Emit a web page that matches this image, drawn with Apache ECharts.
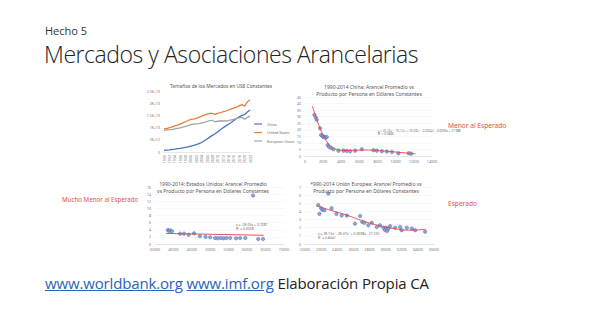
<!DOCTYPE html>
<html><head><meta charset="utf-8">
<script src="https://cdn.jsdelivr.net/npm/echarts@6/dist/echarts.min.js"></script>
<style>
html,body{margin:0;padding:0;background:#fff;width:589px;height:331px;overflow:hidden;font-family:'Open Sans','Noto Sans',sans-serif;}
#c{position:absolute;left:0;top:0;width:589px;height:331px;}
.t{position:absolute;white-space:nowrap;color:#222;}
a{color:#2b63b8;text-decoration:underline;}
</style></head>
<body>
<div id="c"></div>
<div class="t" style="left:45px;top:25px;font-size:11px;line-height:12px;color:#333;">Hecho 5</div>
<div class="t" style="left:44px;top:42px;font-size:23px;line-height:25px;font-weight:300;letter-spacing:-0.45px;">Mercados y Asociaciones Arancelarias</div>
<div class="t" style="left:45px;top:273px;font-size:15px;line-height:20px;letter-spacing:-0.15px;"><a>www.worldbank.org</a> <a>www.imf.org</a> Elaboración Propia CA</div>
<script>
// ---- Chart 1: market size (trillions of constant US$) ----
const years = [];
for (let y = 1990; y <= 2022; y++) years.push(String(y));
const china = [0.7,0.8,0.9,1.1,1.2,1.4,1.5,1.7,1.9,2.1,2.4,2.7,3.0,3.4,3.9,4.6,5.3,6.1,6.8,7.5,8.3,9.1,9.9,10.7,11.4,12.1,12.9,13.7,14.4,15.0,15.3,16.4,17.2];
const usa = [9.6,9.6,10.0,10.3,10.7,11.0,11.4,11.9,12.4,12.9,13.4,13.5,13.8,14.2,14.7,15.1,15.5,15.8,15.8,15.4,15.8,16.1,16.5,16.8,17.2,17.7,18.0,18.4,19.0,19.4,18.8,20.5,21.4];
const eu = [8.9,9.1,9.2,9.2,9.5,9.7,9.9,10.2,10.5,10.8,11.2,11.4,11.5,11.6,11.9,12.1,12.5,12.9,13.0,12.4,12.6,12.8,12.7,12.7,12.9,13.2,13.4,13.8,14.0,14.2,13.4,14.2,14.7];
const yLabels1 = ['0','5E+12','1E+13','1.5E+13','2E+13','2.5E+13'];

// ---- Chart 2: China tariff vs GDP per capita ----
const chinaPts = [[1030,31.5],[1180,29.5],[1290,27.7],[1660,21.2],[1770,16],[1920,15.3],[2030,14.5],[2140,14.7],[2280,14],[2400,14.5],[2500,8.3],[2650,7],[2870,6.2],[3130,5.2],[3680,4.1],[4240,4.1],[4600,3.9],[4970,3.6],[5530,4.1],[6260,5.2],[7550,4.4],[7920,4.1],[8470,3.6],[9030,3.4],[9580,3.1],[10300,2.1],[11420,2.1],[11700,1.8]];
const chinaTrend = [[800,38],[1200,30],[1600,22],[2000,16],[2500,10],[3000,6.5],[3500,5],[4500,4.3],[5500,4.3],[6500,4.6],[7500,4.5],[8500,4],[9500,3.4],[10500,2.7],[11500,2.1],[12200,1.6]];

// ---- Chart 3: United States ----
const usPts = [[38500,3.9],[38800,3.7],[39200,3.8],[39600,3.6],[41800,2.9],[42900,2.9],[44150,2.6],[45600,3.0],[47200,2.2],[48700,2.0],[49950,1.9],[51300,1.7],[52000,1.6],[52800,1.7],[53600,1.6],[54400,1.7],[55400,1.7],[57000,1.6],[58100,1.7],[59500,1.7],[61600,13.6],[63000,1.4],[64300,1.4]];
const usTrend = [[38000,2.97],[64500,2.44]];

// ---- Chart 4: European Union ----
const euPts = [[21650,4.8],[21780,3.7],[22000,4.4],[22150,4.2],[22400,4.15],[22900,6.2],[23300,4.4],[23900,3.7],[24550,3.5],[25200,3.5],[26200,2.5],[26830,3.45],[27100,2.7],[27370,2.6],[27860,2.3],[28280,2.6],[28900,2.1],[29300,2.3],[29730,2.0],[29940,1.7],[30060,2.0],[30190,1.6],[30350,1.9],[30560,2.2],[31180,2.0],[31800,2.1],[32000,1.7],[32630,2.0],[33250,1.9],[33670,1.7],[34900,1.5]];
const euTrend = [[21400,4.7],[23000,4.2],[25000,3.6],[27000,2.9],[29000,2.3],[31000,1.9],[33000,1.7],[35000,1.8]];

const FONT = 'Noto Sans';
const plain = (v) => String(v);
const tiny = {fontSize:3.6, color:'#777', fontFamily:FONT};
const axisLine = {show:true, lineStyle:{color:'#d9d9d9', width:0.6}};
const grid = {show:true, lineStyle:{color:'#f0f0f0', width:0.5}};
const scatterStyle = {color:'#7f9bd6', borderColor:'#4a6fb8', borderWidth:0.5, opacity:0.9};
const trendStyle = {color:'#e8403c', width:0.9};

const chart = echarts.init(document.getElementById('c'), null, {renderer:'svg'});
chart.setOption({
  animation:false,
  backgroundColor:'#fff',
  title:[
    {text:'Tamaños de los Mercados en US$ Constantes', left:216, top:78, textAlign:'center', textStyle:{fontSize:4.8, fontWeight:'normal', color:'#555', fontFamily:FONT}},
    {text:'1990-2014 China: Arancel Promedio vs\nProducto por Persona en Dólares Constantes', left:364, top:78, textAlign:'center', textStyle:{fontSize:5, lineHeight:7.5, fontWeight:'normal', color:'#555', fontFamily:FONT}},
    {text:'1990-2014: Estados Unidos: Arancel Promedio\nvs Producto por Persona en Dólares Constantes', left:208, top:175, textAlign:'center', textStyle:{fontSize:5, lineHeight:7.5, fontWeight:'normal', color:'#555', fontFamily:FONT}},
    {text:'*990-2014 Unión Europea: Arancel Promedio vs\nProducto por Persona en Dólares Constantes', left:361, top:175, textAlign:'center', textStyle:{fontSize:5, lineHeight:7.5, fontWeight:'normal', color:'#555', fontFamily:FONT}}
  ],
  legend:{
    left:249, top:117, orient:'vertical', itemWidth:8, itemHeight:1.2, itemGap:4.5, icon:'rect',
    textStyle:{fontSize:3.6, color:'#666', fontFamily:FONT},
    data:['China','United States','European Union']
  },
  grid:[
    {left:164, top:91, width:86, height:61},
    {left:305, top:97, width:127, height:59},
    {left:155, top:187, width:129, height:57},
    {left:305, top:187, width:129, height:57}
  ],
  xAxis:[
    {gridIndex:0, type:'category', data:years, boundaryGap:false, axisLine:axisLine, axisTick:{show:false},
     axisLabel:Object.assign({rotate:90, interval:1, margin:3}, tiny)},
    {gridIndex:1, type:'value', min:0, max:14000, interval:2000, axisLine:axisLine, axisTick:{show:false}, splitLine:{show:false}, axisLabel:Object.assign({margin:3, formatter:plain}, tiny)},
    {gridIndex:2, type:'value', min:35000, max:70000, interval:5000, axisLine:axisLine, axisTick:{show:false}, splitLine:{show:false}, axisLabel:Object.assign({margin:3, formatter:plain}, tiny)},
    {gridIndex:3, type:'value', min:20000, max:36000, interval:2000, axisLine:axisLine, axisTick:{show:false}, splitLine:{show:false}, axisLabel:Object.assign({margin:3, formatter:plain}, tiny)}
  ],
  yAxis:[
    {gridIndex:0, type:'value', min:0, max:25, interval:5, axisLine:{show:false}, axisTick:{show:false}, splitLine:{show:false},
     axisLabel:Object.assign({margin:4, formatter:(v)=>yLabels1[Math.round(v/5)]}, tiny)},
    {gridIndex:1, type:'value', min:0, max:45, interval:5, axisLine:{show:false}, axisTick:{show:false}, splitLine:grid, axisLabel:Object.assign({margin:4}, tiny)},
    {gridIndex:2, type:'value', min:0, max:16, interval:2, axisLine:{show:false}, axisTick:{show:false}, splitLine:grid, axisLabel:Object.assign({margin:4}, tiny)},
    {gridIndex:3, type:'value', min:0, max:7, interval:1, axisLine:{show:false}, axisTick:{show:false}, splitLine:grid, axisLabel:Object.assign({margin:4}, tiny)}
  ],
  series:[
    {name:'China', type:'line', xAxisIndex:0, yAxisIndex:0, data:china, showSymbol:false, lineStyle:{width:1.3}, color:'#4472c4'},
    {name:'United States', type:'line', xAxisIndex:0, yAxisIndex:0, data:usa, showSymbol:false, lineStyle:{width:1.3}, color:'#ed7d31'},
    {name:'European Union', type:'line', xAxisIndex:0, yAxisIndex:0, data:eu, showSymbol:false, lineStyle:{width:1.3}, color:'#a5a5a5'},
    {type:'scatter', xAxisIndex:1, yAxisIndex:1, data:chinaPts, symbolSize:3.5, itemStyle:scatterStyle},
    {type:'line', xAxisIndex:1, yAxisIndex:1, data:chinaTrend, smooth:true, showSymbol:false, lineStyle:trendStyle, color:'#e8403c'},
    {type:'scatter', xAxisIndex:2, yAxisIndex:2, data:usPts, symbolSize:3.5, itemStyle:scatterStyle},
    {type:'line', xAxisIndex:2, yAxisIndex:2, data:usTrend, showSymbol:false, lineStyle:trendStyle, color:'#e8403c'},
    {type:'scatter', xAxisIndex:3, yAxisIndex:3, data:euPts, symbolSize:3.5, itemStyle:scatterStyle},
    {type:'line', xAxisIndex:3, yAxisIndex:3, data:euTrend, smooth:true, showSymbol:false, lineStyle:trendStyle, color:'#e8403c'}
  ],
  graphic:[
    {type:'text', left:448, top:122, style:{text:'Menor al Esperado', fontSize:6.6, fill:'#e0504c', fontFamily:FONT}},
    {type:'text', left:62, top:196, style:{text:'Mucho Menor al Esperado', fontSize:6.2, fill:'#e0504c', fontFamily:FONT}},
    {type:'text', left:448, top:200, style:{text:'Esperado', fontSize:6.6, fill:'#e0504c', fontFamily:FONT}},
    {type:'text', left:378, top:129, style:{text:'y = 2E-16x⁵ - 7E-12x⁴ + 9E-08x³ - 0.0004x² - 0.0053x + 77.988\nR² = 0.9466', fontSize:3, lineHeight:3.6, fill:'#666', align:'center', fontFamily:FONT}},
    {type:'text', left:236, top:222, style:{text:'y = -2E-05x + 3.7287\nR² = 0.0058', fontSize:3.4, lineHeight:4, fill:'#666', align:'center', fontFamily:FONT}},
    {type:'text', left:318, top:231, style:{text:'y = 2E-12x³ - 2E-07x² + 0.0038x - 21.592\nR² = 0.8047', fontSize:3.4, lineHeight:4, fill:'#666', align:'center', fontFamily:FONT}}
  ]
});
</script>
</body></html>
